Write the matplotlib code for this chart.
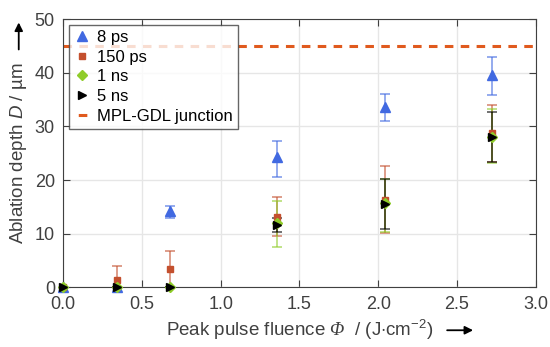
import matplotlib
matplotlib.use("Agg")
import matplotlib.pyplot as plt
from matplotlib.lines import Line2D

plt.rcParams['font.family'] = ['Liberation Sans', 'DejaVu Sans']
plt.rcParams['mathtext.fontset'] = 'custom'
plt.rcParams['mathtext.rm'] = 'Liberation Sans'
plt.rcParams['mathtext.it'] = 'Liberation Sans:italic'
plt.rcParams['mathtext.sf'] = 'Liberation Sans:italic'
plt.rcParams['mathtext.bf'] = 'Liberation Serif:italic'

# fluence values (J/cm^2)
fluence = [0.0, 0.34, 0.68, 1.36, 2.04, 2.72]

# ablation depth (um) and error bar ends
depth8ps = [0.0, 0.0, 14.2, 24.2, 33.6, 39.6]
lo8ps = [0.0, 0.0, 13.0, 20.6, 31.0, 35.9]
hi8ps = [0.0, 0.0, 15.2, 27.3, 36.0, 43.0]

depth150ps = [0.0, 1.4, 3.4, 13.2, 16.3, 28.7]
lo150ps = [0.0, 0.0, 0.0, 9.6, 10.2, 23.3]
hi150ps = [0.0, 4.0, 6.7, 16.9, 22.7, 34.0]

depth1ns = [0.0, 0.0, 0.0, 12.0, 15.8, 28.0]
lo1ns = [0.0, 0.0, 0.0, 7.6, 10.4, 23.2]
hi1ns = [0.0, 0.0, 0.0, 16.1, 20.2, 33.3]

depth5ns = [0.0, 0.0, 0.0, 11.7, 15.6, 28.0]
lo5ns = [0.0, 0.0, 0.0, 10.4, 10.8, 23.3]
hi5ns = [0.0, 0.0, 0.0, 13.0, 20.2, 32.6]

junctionDepth = 45.0

series = [
    ("8 ps", depth8ps, lo8ps, hi8ps, "^", "#4169e1", 7),
    ("150 ps", depth150ps, lo150ps, hi150ps, "s", "#c4502e", 5),
    ("1 ns", depth1ns, lo1ns, hi1ns, "D", "#8fcc2a", 5),
    ("5 ns", depth5ns, lo5ns, hi5ns, ">", "black", 6),
]

grey = "#404040"
junctionColor = "#e05a1e"

fig = plt.figure(figsize=(5.5, 3.47), dpi=100)
ax = fig.add_axes([0.115, 0.172, 0.859, 0.773])

handles = []
for label, depth, lo, hi, marker, color, size in series:
    yerr = [[d - l for d, l in zip(depth, lo)], [h - d for d, h in zip(depth, hi)]]
    ax.errorbar(fluence, depth, yerr=yerr, fmt="none", ecolor=color, alpha=0.6,
                elinewidth=1.3, capsize=3.5, capthick=1.3)
    line, = ax.plot(fluence, depth, linestyle="none", marker=marker, color=color,
                    markersize=size, label=label, clip_on=False, zorder=5)
    handles.append(line)

ax.axhline(junctionDepth, color=junctionColor, linestyle=(0, (2.8, 2.4)), linewidth=2.2)
# legend proxy: one centred dash
handles.append(Line2D([], [], color=junctionColor, linewidth=2.2,
                      linestyle=(0, (0, 1.4, 2.8, 6)), label="MPL-GDL junction"))

ax.set_xlim(0, 3)
ax.set_ylim(0, 50)
ax.set_xticks([0, 0.5, 1.0, 1.5, 2.0, 2.5, 3.0])
ax.set_xticklabels(["0.0", "0.5", "1.0", "1.5", "2.0", "2.5", "3.0"])
ax.set_yticks([0, 10, 20, 30, 40, 50])
ax.grid(True, color="#e6e6e6", linewidth=1)
ax.set_axisbelow(True)
ax.tick_params(direction="in", top=True, right=True, labelsize=13,
               colors=grey, length=5, pad=6)
for spine in ax.spines.values():
    spine.set_color(grey)

ax.set_xlabel(r"Peak pulse fluence $\mathbf{\Phi}$  / (J$\cdot$cm$^{-2}$)",
              fontsize=13.5, color=grey, labelpad=4)
ax.set_ylabel(r"Ablation depth $\mathsf{D}$ / µm", fontsize=13.5,
              color=grey, labelpad=4)

leg = ax.legend(handles=handles, loc="upper left", fontsize=12, frameon=True,
                fancybox=False, edgecolor=grey, handlelength=1.0, handletextpad=0.4,
                borderaxespad=0.35, labelspacing=0.28, borderpad=0.3)
leg.get_frame().set_linewidth(1.0)

# arrows after the axis labels
fig.canvas.draw()
renderer = fig.canvas.get_renderer()
xb = ax.xaxis.label.get_window_extent(renderer)
yb = ax.yaxis.label.get_window_extent(renderer)
arrowStyle = dict(arrowstyle="-|>", color="black", lw=1.3, mutation_scale=12,
                  shrinkA=0, shrinkB=0)
xMid = (xb.y0 + xb.y1) / 2
ax.annotate("", xy=(xb.x1 + 40, xMid), xytext=(xb.x1 + 14, xMid),
            xycoords="figure pixels", arrowprops=arrowStyle)
yMid = (yb.x0 + yb.x1) / 2
ax.annotate("", xy=(yMid, yb.y1 + 40), xytext=(yMid, yb.y1 + 13),
            xycoords="figure pixels", arrowprops=arrowStyle)

fig.savefig("out.png", dpi=100)
